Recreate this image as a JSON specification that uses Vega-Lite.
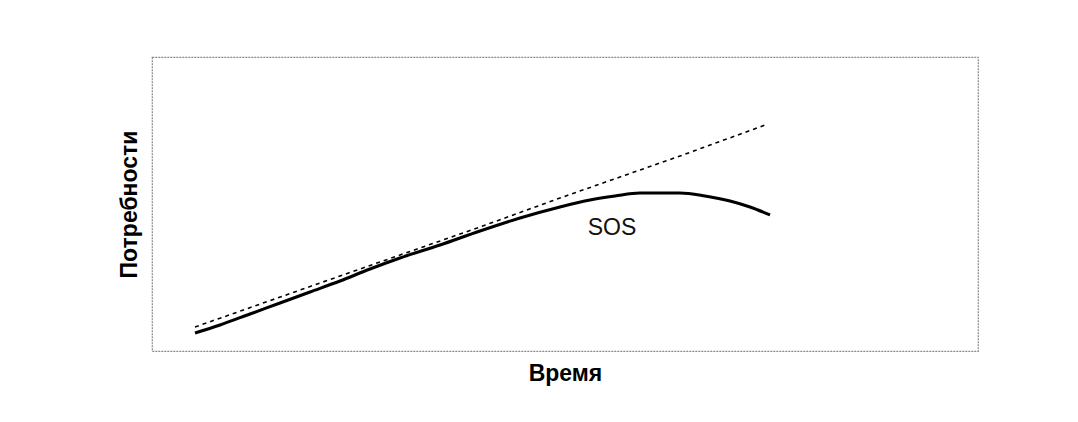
{
  "$schema": "https://vega.github.io/schema/vega-lite/v6.json",
  "autosize": {"type": "none"},
  "width": 826,
  "height": 294,
  "padding": {"left": 152, "top": 57, "right": 100, "bottom": 71},
  "background": "white",
  "config": {
    "view": {"stroke": "#8a8a8a", "strokeDash": [2, 1], "strokeWidth": 1.2},
    "font": "Liberation Sans"
  },
  "datasets": {
    "sos": [
      {"t": 43, "n": 18}, {"t": 68, "n": 26}, {"t": 98, "n": 37}, {"t": 128, "n": 48},
      {"t": 158, "n": 59}, {"t": 188, "n": 70}, {"t": 218, "n": 82}, {"t": 248, "n": 93},
      {"t": 288, "n": 106}, {"t": 328, "n": 120}, {"t": 368, "n": 133}, {"t": 408, "n": 144},
      {"t": 438, "n": 151}, {"t": 463, "n": 155}, {"t": 488, "n": 158}, {"t": 528, "n": 158},
      {"t": 553, "n": 155}, {"t": 578, "n": 150}, {"t": 598, "n": 144}, {"t": 618, "n": 136}
    ],
    "trend": [
      {"t": 43, "n": 24}, {"t": 188, "n": 75}, {"t": 328, "n": 124},
      {"t": 408, "n": 153}, {"t": 528, "n": 195}, {"t": 616, "n": 227}
    ],
    "label": [{"t": 460, "n": 123, "txt": "SOS"}]
  },
  "encoding": {
    "x": {
      "field": "t", "type": "quantitative",
      "scale": {"domain": [0, 826], "nice": false, "zero": false},
      "axis": {"title": "Время", "labels": false, "ticks": false, "domain": false, "grid": false,
               "titleFontSize": 23, "titleFontWeight": "bold", "titleColor": "#000", "titlePadding": 11, "titleFont": "Liberation Sans"}
    },
    "y": {
      "field": "n", "type": "quantitative",
      "scale": {"domain": [0, 294], "nice": false, "zero": false},
      "axis": {"title": "Потребности", "labels": false, "ticks": false, "domain": false, "grid": false,
               "titleFontSize": 23, "titleFontWeight": "bold", "titleColor": "#000", "titlePadding": 11, "titleFont": "Liberation Sans"}
    }
  },
  "layer": [
    {
      "data": {"name": "trend"},
      "mark": {"type": "line", "color": "#000", "strokeWidth": 1.6, "strokeDash": [4, 4]}
    },
    {
      "data": {"name": "sos"},
      "mark": {"type": "line", "color": "#000", "strokeWidth": 3, "interpolate": "monotone"}
    },
    {
      "data": {"name": "label"},
      "mark": {"type": "text", "fontSize": 23, "color": "#111", "font": "Liberation Sans"},
      "encoding": {"text": {"field": "txt"}}
    }
  ]
}
